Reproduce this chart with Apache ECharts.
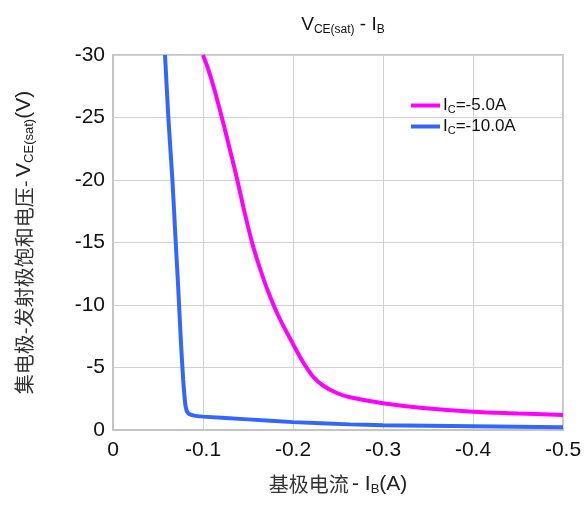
<!DOCTYPE html>
<html>
<head>
<meta charset="utf-8">
<script src="https://cdn.jsdelivr.net/npm/echarts@6/dist/echarts.min.js"></script>
<style>html,body{margin:0;padding:0;background:#fff}#c{width:585px;height:505px}</style>
</head>
<body>
<div id="c"></div>
<script>
// Data (IB in A, VCE(sat) in V)
const seriesNames = ['IC=-5.0A', 'IC=-10.0A'];
const ic5 = [
  [-0.1,-30],[-0.1061,-28.8],[-0.1128,-27.2],[-0.1208,-25.04],[-0.13,-22.4],[-0.1381,-20],
  [-0.1456,-17.6],[-0.1545,-15.0],[-0.1625,-13.1],[-0.1717,-11.2],[-0.1833,-9.2],
  [-0.1994,-6.96],[-0.2111,-5.44],[-0.2226,-4.24],[-0.2333,-3.56],[-0.2486,-2.96],
  [-0.2633,-2.62],[-0.3,-2.14],[-0.3444,-1.76],[-0.4,-1.46],[-0.45,-1.32],[-0.5,-1.2]
];
const ic10 = [
  [-0.0578,-30],[-0.0615,-25],[-0.066,-20],[-0.0697,-15],[-0.0726,-11.2],[-0.0755,-7],
  [-0.078,-4],[-0.0807,-1.87],[-0.0837,-1.33],[-0.09,-1.15],[-0.1,-1.07],[-0.15,-0.85],
  [-0.2,-0.63],[-0.263,-0.45],[-0.3,-0.38],[-0.4,-0.3],[-0.5,-0.22]
];
const xTicks = ['0','-0.1','-0.2','-0.3','-0.4','-0.5'];
const yTicks = ['0','-5','-10','-15','-20','-25','-30'];

const chart = echarts.init(document.getElementById('c'), null, {renderer:'canvas'});
const F = 'Liberation Sans, Arial, sans-serif';
const CJK = 'Noto Sans CJK SC, sans-serif';
const nameRich = {
  c: {fontFamily: CJK, fontSize: 20, color: '#333', lineHeight: 24},
  a: {fontFamily: F, fontSize: 21, color: '#222', lineHeight: 24},
  s: {fontFamily: F, fontSize: 13, color: '#222', lineHeight: 13, verticalAlign: 'bottom'}
};
chart.setOption({
  animation: false,
  backgroundColor: '#fff',
  title: {
    text: '{v|V}{s|CE(sat)}{v| - I}{s|B}',
    left: 338, top: 9, textAlign: 'center',
    textStyle: {
      fontWeight: 'normal',
      rich: {
        v: {fontFamily: F, fontSize: 19, fontWeight: 'normal', color: '#111', lineHeight: 22},
        s: {fontFamily: F, fontSize: 12, fontWeight: 'normal', color: '#111', lineHeight: 12, verticalAlign: 'bottom'}
      }
    }
  },
  legend: {
    orient: 'vertical', left: 406, top: 92, itemGap: 3,
    itemWidth: 29, itemHeight: 4, icon: 'rect',
    formatter: function (n) {
      const m = n.match(/^IC(.*)$/);
      return '{a|I}{b|C}{a|' + m[1] + '}';
    },
    textStyle: {
      padding: [0,0,0,-2],
      rich: {
        a: {fontFamily: F, fontSize: 17, color: '#111', lineHeight: 19},
        b: {fontFamily: F, fontSize: 11, color: '#111', lineHeight: 11, verticalAlign: 'bottom'}
      }
    }
  },
  grid: {left: 113, right: 22, top: 55, bottom: 75, show: true, borderColor: '#c4c4c4', borderWidth: 2},
  xAxis: {
    type: 'value', min: -0.5, max: 0, interval: 0.1, inverse: true,
    name: '{c|基极电流} {a|- I}{s|B}{a|(A)}', nameLocation: 'middle', nameGap: 42,
    nameTextStyle: {rich: nameRich},
    axisLine: {show: true, lineStyle: {color: '#c4c4c4', width: 2}},
    axisTick: {show: false},
    splitLine: {show: true, lineStyle: {color: '#d2d2d2', width: 1}},
    axisLabel: {
      margin: 10, fontFamily: F, fontSize: 21, color: '#111',
      formatter: function (v) { return xTicks[Math.round(-v * 10)]; }
    }
  },
  yAxis: {
    type: 'value', min: -30, max: 0, interval: 5, inverse: true,
    name: '{c|集电极-发射极饱和电压-} {a|V}{s|CE(sat)}{a|(V)}', nameLocation: 'middle', nameGap: 77, nameRotate: 90,
    nameTextStyle: {rich: nameRich},
    axisLine: {show: true, lineStyle: {color: '#c4c4c4', width: 2}},
    axisTick: {show: false},
    splitLine: {show: true, lineStyle: {color: '#d2d2d2', width: 1}},
    axisLabel: {
      margin: 8, fontFamily: F, fontSize: 21, color: '#111',
      formatter: function (v) { return yTicks[Math.round(-v / 5)]; }
    }
  },
  series: [
    {name: seriesNames[0], type: 'line', data: ic5, smooth: 0.35, showSymbol: false,
     lineStyle: {color: '#ff00ff', width: 4}, itemStyle: {color: '#ff00ff'}},
    {name: seriesNames[1], type: 'line', data: ic10, smooth: 0.2, showSymbol: false,
     lineStyle: {color: '#3366ff', width: 4}, itemStyle: {color: '#3366ff'}}
  ]
});
</script>
</body>
</html>
